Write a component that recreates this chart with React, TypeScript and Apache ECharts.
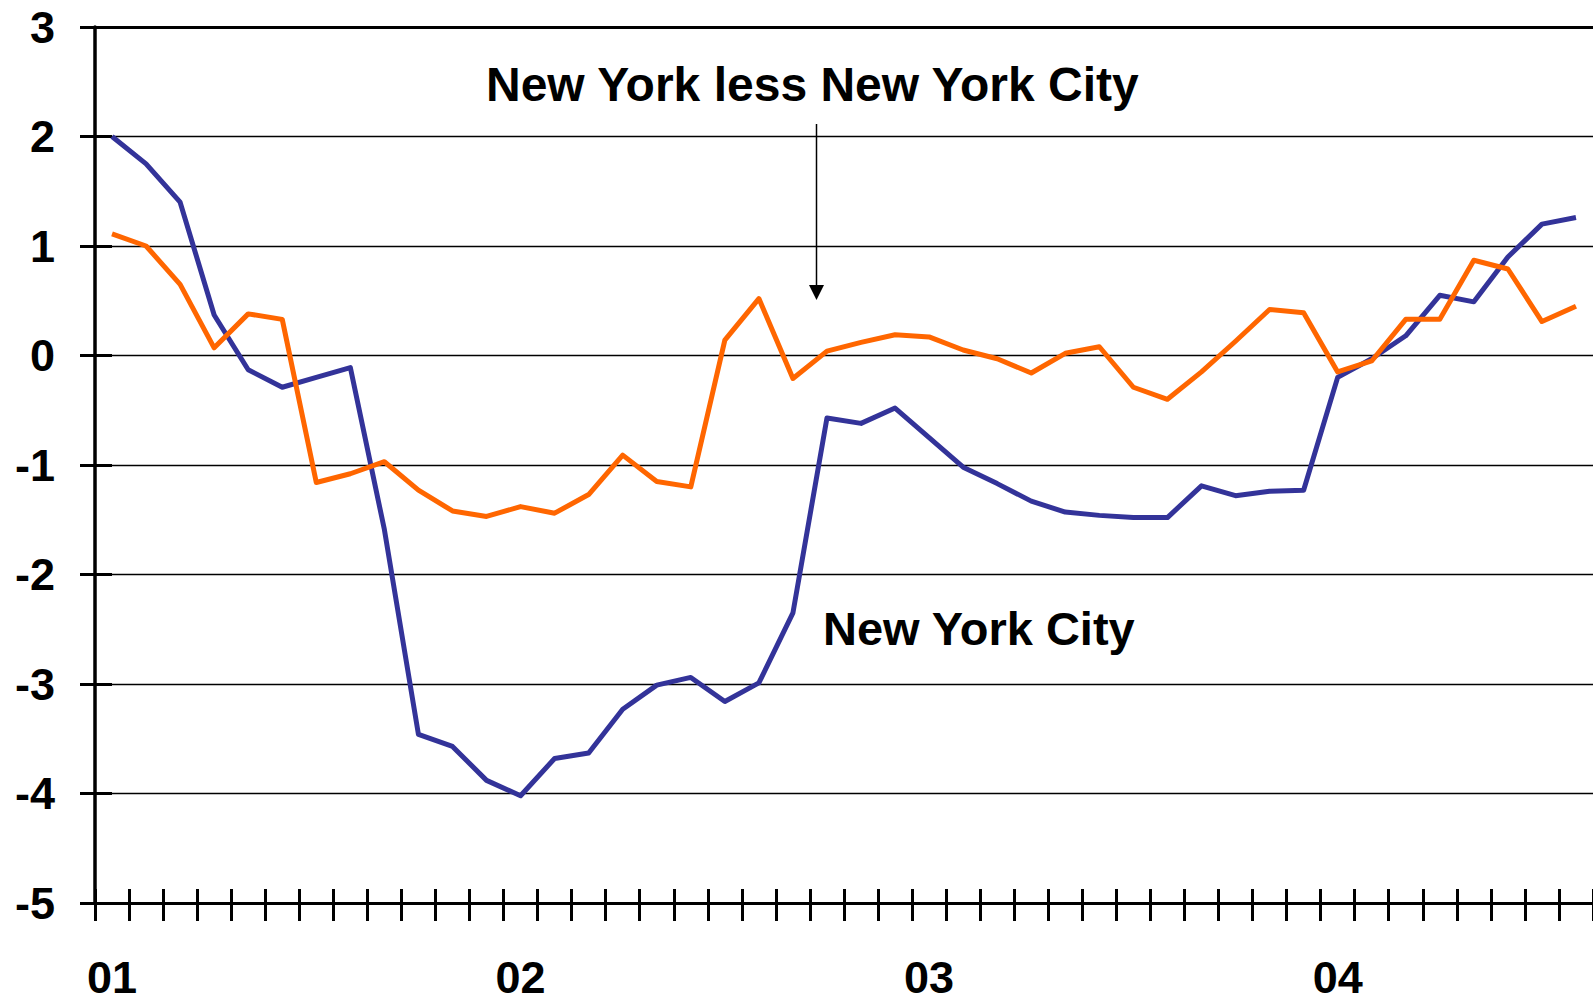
import React, { useEffect, useRef } from "react";
import * as echarts from "echarts";

const months: string[] = [
  "Jan 01", "Feb 01", "Mar 01", "Apr 01", "May 01", "Jun 01", "Jul 01", "Aug 01", "Sep 01", "Oct 01", "Nov 01", "Dec 01",
  "Jan 02", "Feb 02", "Mar 02", "Apr 02", "May 02", "Jun 02", "Jul 02", "Aug 02", "Sep 02", "Oct 02", "Nov 02", "Dec 02",
  "Jan 03", "Feb 03", "Mar 03", "Apr 03", "May 03", "Jun 03", "Jul 03", "Aug 03", "Sep 03", "Oct 03", "Nov 03", "Dec 03",
  "Jan 04", "Feb 04", "Mar 04", "Apr 04", "May 04", "Jun 04", "Jul 04", "Aug 04",
];

const newYorkCity: number[] = [
  2.0, 1.75, 1.4, 0.37, -0.13, -0.29, -0.2, -0.11, -1.59, -3.46, -3.57, -3.88,
  -4.02, -3.68, -3.63, -3.23, -3.01, -2.94, -3.16, -2.99, -2.35, -0.57, -0.62, -0.48,
  -0.75, -1.02, -1.17, -1.33, -1.43, -1.46, -1.48, -1.48, -1.19, -1.28, -1.24, -1.23,
  -0.2, -0.03, 0.18, 0.55, 0.49, 0.9, 1.2, 1.26,
];

const restOfState: number[] = [
  1.11, 1.0, 0.65, 0.07, 0.38, 0.33, -1.16, -1.08, -0.97, -1.23, -1.42, -1.47,
  -1.38, -1.44, -1.27, -0.91, -1.15, -1.2, 0.14, 0.52, -0.21, 0.04, 0.12, 0.19,
  0.17, 0.05, -0.03, -0.16, 0.02, 0.08, -0.29, -0.4, -0.15, 0.13, 0.42, 0.39,
  -0.15, -0.05, 0.33, 0.33, 0.87, 0.79, 0.31, 0.45,
];

const yMin = -5;
const yMax = 3;
const yStep = 1;

const seriesNames = ["New York City", "New York less New York City"];

const FONT = '"Liberation Sans", Arial, Helvetica, sans-serif';

export default function App() {
  const ref = useRef<HTMLDivElement>(null);

  useEffect(() => {
    if (!ref.current) return;
    const chart = echarts.init(ref.current, undefined, { renderer: "svg" });

    const labelStyle = {
      fontFamily: FONT,
      fontWeight: "bold" as const,
      fontSize: 45,
      color: "#000",
    };

    chart.setOption({
      animation: false,
      backgroundColor: "#fff",
      grid: { left: 95, right: -2, top: 27, bottom: 100, containLabel: false },
      xAxis: [
        {
          type: "category",
          data: months,
          position: "bottom",
          boundaryGap: true,
          axisLine: { show: true, onZero: false, lineStyle: { color: "#000", width: 3 } },
          axisTick: { show: true, interval: 0, inside: false, length: 18, lineStyle: { color: "#000", width: 3 } },
          axisLabel: {
            ...labelStyle,
            interval: 11,
            margin: 52,
            formatter: (v: string) => v.split(" ")[1],
          },
          splitLine: { show: false },
        },
        {
          type: "category",
          data: months,
          position: "bottom",
          boundaryGap: true,
          axisLine: { show: false, onZero: false },
          axisTick: { show: true, interval: 0, inside: true, length: 14, lineStyle: { color: "#000", width: 3 } },
          axisLabel: { show: false },
          splitLine: { show: false },
        },
        {
          type: "category",
          data: months,
          position: "top",
          boundaryGap: true,
          axisLine: { show: true, onZero: false, lineStyle: { color: "#000", width: 3 } },
          axisTick: { show: false },
          axisLabel: { show: false },
          splitLine: { show: false },
        },
      ],
      yAxis: [
        {
          type: "value",
          min: yMin,
          max: yMax,
          interval: yStep,
          position: "left",
          axisLine: { show: true, onZero: false, lineStyle: { color: "#000", width: 3.5 } },
          axisTick: { show: true, inside: true, length: 17, lineStyle: { color: "#000", width: 3 } },
          axisLabel: { ...labelStyle, margin: 40 },
          splitLine: { show: true, lineStyle: { color: "#000", width: 1.3 } },
        },
        {
          type: "value",
          min: yMin,
          max: yMax,
          interval: yStep,
          position: "left",
          axisLine: { show: false, onZero: false },
          axisTick: { show: true, inside: false, length: 15, lineStyle: { color: "#000", width: 3 } },
          axisLabel: { show: false },
          splitLine: { show: false },
        },
      ],
      series: [
        {
          name: seriesNames[0],
          type: "line",
          xAxisIndex: 0,
          yAxisIndex: 0,
          data: newYorkCity,
          symbol: "none",
          lineStyle: { color: "#333399", width: 5, join: "round" },
          itemStyle: { color: "#333399" },
          z: 3,
        },
        {
          name: seriesNames[1],
          type: "line",
          xAxisIndex: 0,
          yAxisIndex: 0,
          data: restOfState,
          symbol: "none",
          lineStyle: { color: "#FF6600", width: 5, join: "round" },
          itemStyle: { color: "#FF6600" },
          z: 4,
        },
      ],
      graphic: [
        {
          type: "text",
          x: 486,
          y: 84,
          style: {
            text: seriesNames[1],
            fill: "#000",
            font: `bold 48px ${FONT}`,
            align: "left",
            verticalAlign: "middle",
          },
          z: 10,
        },
        {
          type: "text",
          x: 823,
          y: 628,
          style: {
            text: seriesNames[0],
            fill: "#000",
            font: `bold 47px ${FONT}`,
            align: "left",
            verticalAlign: "middle",
          },
          z: 10,
        },
        {
          type: "line",
          shape: { x1: 816.5, y1: 124, x2: 816.5, y2: 288 },
          style: { stroke: "#000", lineWidth: 1.5 },
          z: 10,
        },
        {
          type: "polygon",
          shape: { points: [[809, 285], [824, 285], [816.5, 300]] },
          style: { fill: "#000" },
          z: 10,
        },
      ],
    });

    return () => chart.dispose();
  }, []);

  return (
    <div
      ref={ref}
      style={{ position: "fixed", left: 0, top: 0, width: 1593, height: 1003, background: "#fff" }}
    />
  );
}
